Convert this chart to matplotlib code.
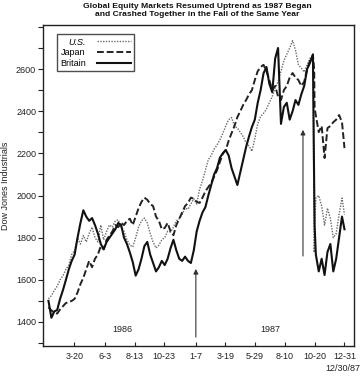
import matplotlib
matplotlib.use("Agg")
import matplotlib.pyplot as plt
from matplotlib.ticker import MultipleLocator
import pandas as pd

# weekly closes (Fridays) plus the crash days, all scaled to the Dow axis
extra_days = ["1987-10-19", "1987-10-20", "1987-12-31"]
dates = pd.date_range("1986-01-17", "1987-12-25", freq="W-FRI").append(pd.DatetimeIndex(extra_days)).sort_values()

us_1986 = [1510, 1525, 1550,
           1570, 1600, 1620, 1650,
           1670, 1720, 1740, 1800,
           1770, 1810, 1780, 1820,
           1850, 1800, 1780, 1860, 1790,
           1830, 1860, 1850, 1880,
           1885, 1850, 1830, 1790,
           1765, 1756, 1800, 1850, 1880,
           1893, 1870, 1820, 1779,
           1751, 1765, 1790, 1800, 1830,
           1827, 1850, 1880, 1890,
           1910, 1940, 1935, 1960]
us_1987 = [1985, 1960, 2030, 2070, 2120,
           2170, 2190, 2220, 2240,
           2265, 2296, 2330, 2360,
           2370, 2330, 2320, 2300,
           2280, 2250, 2235, 2210, 2270,
           2340, 2375, 2390, 2410,
           2440, 2470, 2510, 2540, 2590,
           2640, 2670, 2700, 2735,
           2690, 2620, 2605, 2586,
           2620, 2652, 2640, 1730, 1840, 1988, 2000,
           1950, 1860, 1940, 1890,
           1800, 1820, 1910, 1988, 1910]

japan_1986 = [1470, 1455, 1445,
              1440, 1460, 1475, 1490,
              1495, 1500, 1510, 1540,
              1580, 1610, 1650, 1690,
              1660, 1700, 1720, 1760, 1745,
              1790, 1810, 1830, 1860,
              1850, 1870, 1860, 1880,
              1890, 1860, 1900, 1940, 1970,
              1990, 1980, 1960, 1950,
              1900, 1880, 1840, 1846, 1870,
              1830, 1812, 1860, 1890,
              1920, 1950, 1965, 1990]
japan_1987 = [1985, 1970, 1965, 1990, 2020,
              2040, 2060, 2090, 2120,
              2160, 2200, 2216, 2260,
              2296, 2330, 2372, 2400,
              2430, 2453, 2480, 2500, 2548,
              2590, 2610, 2620, 2590,
              2548, 2500, 2520, 2470, 2453,
              2500, 2520, 2560, 2581,
              2560, 2548, 2520, 2540,
              2600, 2640, 2666, 2600, 2415, 2380, 2301,
              2330, 2178, 2320, 2330,
              2348, 2360, 2382, 2348, 2225]

britain_1986 = [1500, 1420, 1450,
                1457, 1510, 1552, 1600,
                1650, 1690, 1720, 1800,
                1870, 1930, 1900, 1880,
                1893, 1860, 1820, 1770, 1745,
                1780, 1800, 1820, 1840,
                1870, 1860, 1800, 1770,
                1730, 1684, 1620, 1650, 1700,
                1760, 1780, 1720, 1680,
                1640, 1660, 1690, 1670, 1700,
                1750, 1790, 1740, 1700,
                1690, 1710, 1690, 1680]
britain_1987 = [1740, 1830, 1880, 1920, 1945,
                2000, 2050, 2100, 2130,
                2180, 2200, 2216, 2190,
                2130, 2090, 2050, 2110,
                2170, 2230, 2280, 2325, 2360,
                2440, 2500, 2580, 2610,
                2530, 2490, 2650, 2700, 2340,
                2420, 2440, 2360, 2400,
                2453, 2430, 2480, 2520,
                2600, 2630, 2670, 2050, 1860, 1720, 1640,
                1700, 1623, 1732, 1770,
                1640, 1700, 1800, 1900, 1840]

tick_dates = ["1986-03-20", "1986-06-03", "1986-08-13", "1986-10-23", "1987-01-07",
              "1987-03-19", "1987-05-29", "1987-08-10", "1987-10-20", "1987-12-31"]
tick_labels = ["3-20", "6-3", "8-13", "10-23", "1-7", "3-19", "5-29", "8-10", "10-20", "12-31"]

# arrows: date, start value, end value
arrow_dates = ["1987-01-07", "1987-09-22"]
arrow_from = [1315, 1700]
arrow_to = [1665, 2325]

FONT = ["Liberation Sans Narrow", "Liberation Sans", "DejaVu Sans"]
plt.rcParams["font.family"] = FONT
INK = "#222222"

fig = plt.figure(figsize=(3.62, 3.79), dpi=100)
ax = fig.add_axes([0.119, 0.087, 0.859, 0.847])

ax.plot(dates, us_1986 + us_1987, color="#6a6a6a", lw=1.0, ls=(0, (1, 1)), label="U.S.")
ax.plot(dates, japan_1986 + japan_1987, color=INK, lw=1.4, ls=(0, (3.5, 1.5)), label="Japan")
ax.plot(dates, britain_1986 + britain_1987, color="#111111", lw=1.5, label="Britain")

for d, y0, y1 in zip(arrow_dates, arrow_from, arrow_to):
    ax.annotate("", xy=(pd.Timestamp(d), y1), xytext=(pd.Timestamp(d), y0),
                arrowprops=dict(arrowstyle="-|>", color="#333333", lw=0.8, mutation_scale=7))

ax.set_xlim(pd.Timestamp("1986-01-04"), pd.Timestamp("1988-01-23"))
ax.set_ylim(1286, 2809)
ax.set_xticks([pd.Timestamp(d) for d in tick_dates])
ax.set_xticklabels(tick_labels)
ax.yaxis.set_minor_locator(MultipleLocator(100))
ax.set_yticks(range(1400, 2601, 200))
ax.tick_params(axis="y", which="both", direction="out", length=3.5, width=0.8,
               labelsize=6.5, colors=INK, pad=1.5)
ax.tick_params(axis="x", direction="in", length=3, width=0.8, labelsize=6.5,
               colors=INK, pad=4)
for s in ax.spines.values():
    s.set_linewidth(1.0)
    s.set_color(INK)

ax.set_ylabel("Dow Jones Industrials", fontsize=6.5, color=INK, labelpad=4)

ax.text(0.254, 0.044, "1986", transform=ax.transAxes, fontsize=6.5, color=INK, ha="center")
ax.text(0.73, 0.044, "1987", transform=ax.transAxes, fontsize=6.5, color=INK, ha="center")
fig.text(0.948, 0.022, "12/30/87", fontsize=6.5, color=INK, ha="center")

fig.text(0.545, 0.993, "Global Equity Markets Resumed Uptrend as 1987 Began\n"
         "and Crashed Together in the Fall of the Same Year",
         ha="center", va="top", fontsize=6.1, fontweight="bold", color="#111111",
         linespacing=1.2)

leg = ax.legend(loc="upper left", bbox_to_anchor=(0.03, 0.985), markerfirst=False,
                fontsize=6.5, handlelength=3.8, frameon=True, fancybox=False,
                borderpad=0.35, labelspacing=0.2, handletextpad=1.2)
leg.get_frame().set_edgecolor(INK)
leg.get_frame().set_linewidth(1.0)
leg.get_texts()[0].set_fontstyle("italic")

fig.savefig("out.png", dpi=100)
